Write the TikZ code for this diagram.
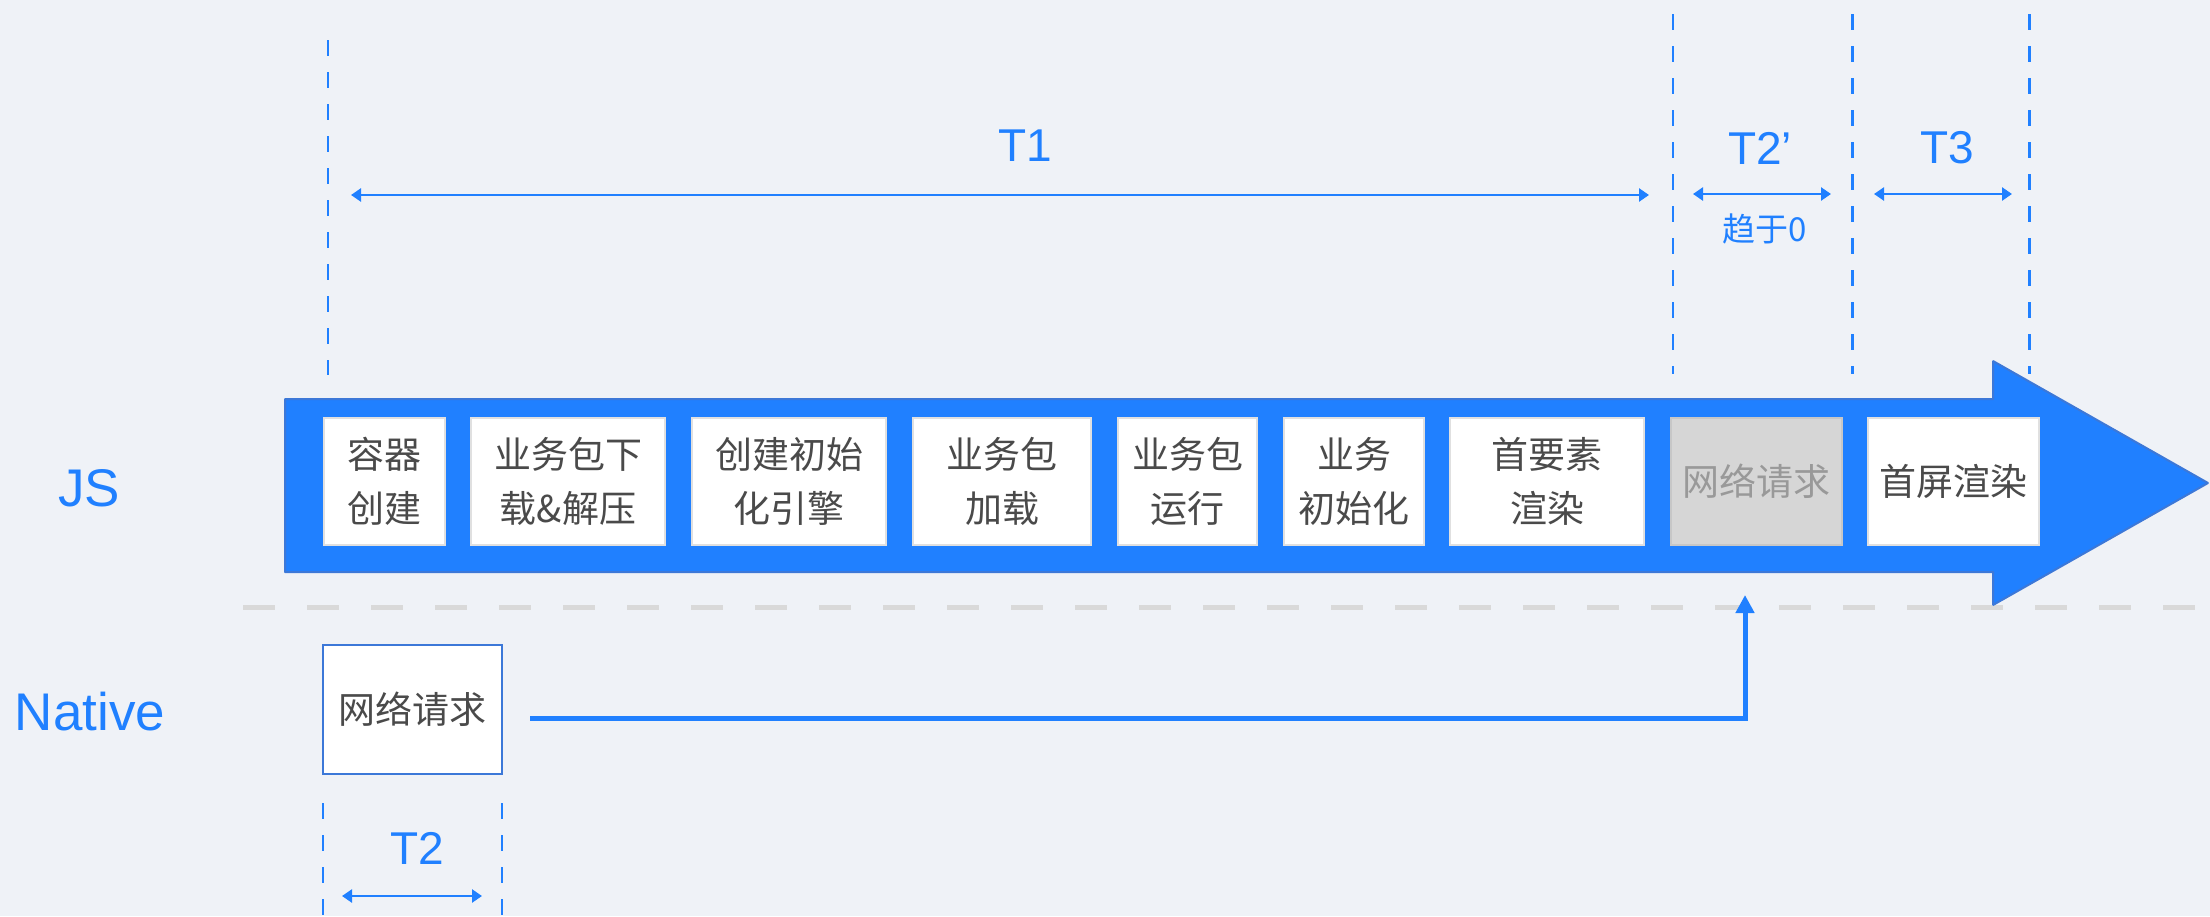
\documentclass[tikz,border=0pt]{standalone}
\usepackage{fontspec}
\setmainfont{Liberation Sans}
\newfontfamily\cjk{Noto Sans CJK SC}
\usetikzlibrary{arrows.meta}
\definecolor{bgc}{HTML}{EFF2F7}
\definecolor{mblue}{HTML}{2080FF}
\definecolor{aborder}{HTML}{3C78D8}
\definecolor{tgray}{HTML}{4A4A4A}
\definecolor{sepgray}{HTML}{D9D9D9}
\tikzset{
  stepbox/.style={fill=white, draw=black!12, line width=1.2pt, inner sep=0pt,
    minimum height=127pt, text=tgray, align=center,
    font=\cjk\fontsize{37}{54}\selectfont},
  greybox/.style={stepbox, fill=black!16, draw=black!22, text=black!40},
  vdash/.style={mblue, line width=2.5pt, dash pattern=on 16pt off 16pt},
  dimarrow/.style={mblue, line width=2.5pt, {Triangle[length=10pt,width=13pt]}-{Triangle[length=10pt,width=13pt]}},
  dimlabel/.style={text=mblue, font=\fontsize{46}{50}\selectfont, inner sep=0pt},
  lanelabel/.style={text=mblue, font=\fontsize{53}{60}\selectfont, inner sep=0pt}
}
\begin{document}
\begin{tikzpicture}[x=1pt,y=-1pt]
\useasboundingbox[fill=bgc] (0,0) rectangle (2210,916);

% separator
\draw[sepgray, line width=5pt, dash pattern=on 32pt off 32pt] (243,607) -- (2210,607);

% big arrow
\draw[fill=mblue, draw=aborder, line width=2pt, line join=bevel]
  (285,399) -- (1993,399) -- (1993,361) -- (2208,483) -- (1993,605) -- (1993,572) -- (285,572) -- cycle;

% boxes
\node[stepbox, minimum width=121pt] (b1) at (384.5,481.5) {容器\\创建};
\node[stepbox, minimum width=194pt] (b2) at (568,481.5) {业务包下\\载\&解压};
\node[stepbox, minimum width=194pt] (b3) at (789,481.5) {创建初始\\化引擎};
\node[stepbox, minimum width=178pt] (b4) at (1002,481.5) {业务包\\加载};
\node[stepbox, minimum width=139pt] (b5) at (1187.5,481.5) {业务包\\运行};
\node[stepbox, minimum width=140pt] (b6) at (1354,481.5) {业务\\初始化};
\node[stepbox, minimum width=194pt] (b7) at (1547,481.5) {首要素\\渲染};
\node[greybox, minimum width=171pt] (b8) at (1756.5,481.5) {网络请求};
\node[stepbox, minimum width=171pt] (b9) at (1953.5,481.5) {首屏渲染};

% lane labels
\node[lanelabel] (js) at (89,488) {JS};
\node[lanelabel] (native) at (90,712) {Native};

% native box
\node[stepbox, draw=aborder, line width=2.5pt, minimum width=179pt, minimum height=129pt] (nb) at (412.5,709.5) {网络请求};

% connector
\coordinate (ns) at (530,718);
\coordinate (ne) at (1745,595);
\draw[mblue, line width=5pt, -{Triangle[length=18pt,width=18pt]}] (ns) -| (ne);

% vertical dashed lines
\coordinate (v1a) at (328,40);   \coordinate (v1b) at (328,375);
\coordinate (v2a) at (1673,14);  \coordinate (v2b) at (1673,374);
\coordinate (v3a) at (1852.5,14);\coordinate (v3b) at (1852.5,374);
\coordinate (v4a) at (2029.5,14);\coordinate (v4b) at (2029.5,374);
\coordinate (v5a) at (323,803);  \coordinate (v5b) at (323,916);
\coordinate (v6a) at (502,803);  \coordinate (v6b) at (502,916);
\draw[vdash] (v1a) -- (v1b);
\draw[vdash] (v2a) -- (v2b);
\draw[vdash] (v3a) -- (v3b);
\draw[vdash] (v4a) -- (v4b);
\draw[vdash] (v5a) -- (v5b);
\draw[vdash] (v6a) -- (v6b);

% dimension arrows
\coordinate (t1a) at (351,195);  \coordinate (t1b) at (1649,195);
\coordinate (t2a) at (1693,194); \coordinate (t2b) at (1831,194);
\coordinate (t3a) at (1874,194); \coordinate (t3b) at (2012,194);
\coordinate (t4a) at (342,896);  \coordinate (t4b) at (482,896);
\draw[dimarrow] (t1a) -- (t1b);
\draw[dimarrow] (t2a) -- (t2b);
\draw[dimarrow] (t3a) -- (t3b);
\draw[dimarrow] (t4a) -- (t4b);

\node[dimlabel] (lt1) at (1025,146) {T1};
\node[dimlabel] (lt2p) at (1760,148) {T2’};
\node[dimlabel] (lt3) at (1947,148) {T3};
\node[dimlabel] (lt2) at (417,848) {T2};
\node[text=mblue, font=\cjk\fontsize{33}{36}\selectfont, inner sep=0pt] (q0) at (1765,229) {趋于0};
\end{tikzpicture}
\end{document}
